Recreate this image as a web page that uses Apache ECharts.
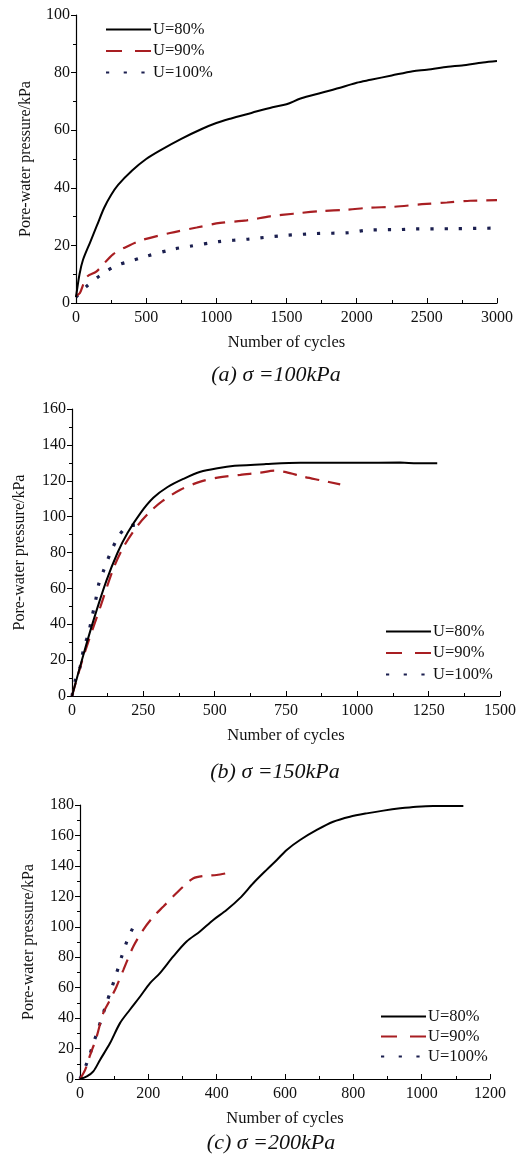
<!DOCTYPE html>
<html>
<head>
<meta charset="utf-8">
<script src="https://cdn.jsdelivr.net/npm/echarts@6/dist/echarts.min.js"></script>
<style>
  html, body { margin: 0; padding: 0; background: #fff; }
  #chart { width: 532px; height: 1163px; }
</style>
</head>
<body>
<div id="chart"></div>
<script>
// (a) sigma = 100kPa
const a80 = [[0,2],[25,10],[50,15],[100,21],[150,27],[200,33],[250,37.5],[300,41],[400,46],[500,50],[600,53],[750,57],[900,60.5],[1000,62.5],[1100,64],[1250,66],[1400,68],[1500,69],[1600,71],[1750,73],[1900,75],[2000,76.5],[2100,77.5],[2250,79],[2400,80.5],[2500,81],[2650,82],[2750,82.5],[2900,83.5],[3000,84]];
const a90 = [[0,2.5],[28,3.5],[76,9],[147,11],[266,17],[380,20],[480,22],[670,24.3],[860,26.2],[1027,27.8],[1217,28.7],[1383,30.1],[1549,31],[1740,31.9],[1930,32.4],[2096,33.1],[2263,33.4],[2465,34.3],[2643,34.9],[2809,35.5],[3000,35.7]];
const a100 = [[0,2],[71,5.6],[171,9.5],[283,12.9],[385,14.5],[485,16],[694,18.7],[813,19.7],[1015,21.3],[1229,22.2],[1474,23.4],[1705,24.1],[1942,24.4],[2073,25.3],[2310,25.5],[2405,25.7],[2700,25.8],[3000,26]];
// (b) sigma = 150kPa
const b80 = [[0,0],[40,23],[75,42],[120,64],[160,80],[195,91],[240,102],[285,110.5],[335,116.5],[390,121],[450,125],[510,127],[570,128.3],[680,129.3],[800,130],[1000,130],[1150,130.2],[1210,129.7],[1280,129.7]];
const b90 = [[0,0],[40,22],[100,50],[145,71],[180,83],[230,95],[275,103],[320,109],[380,115],[450,119.5],[510,121.7],[590,123.3],[660,124.5],[710,125.6],[750,124.8],[810,122.3],[870,120.3],[940,118]];
const b100 = [[0,0],[12,9],[29,16.5],[41,26.5],[58,35],[70,44],[82,52.5],[93,62],[111,70],[134,79.5],[163,89],[193,94.4],[222,95.3]];
// (c) sigma = 200kPa
const c80 = [[0,0],[20,1.7],[39,5],[59,12.7],[88,23.6],[117,36.7],[146,45.5],[176,54.2],[205,63],[234,69.6],[273,80.5],[312,90.3],[351,96.9],[390,104.5],[429,111],[468,118.8],[507,128.6],[546,137.4],[576,143.9],[605,150.5],[644,157],[693,163.6],[741,169],[790,172.3],[839,174.5],[888,176.3],[937,177.8],[985,178.9],[1034,179.4],[1122,179.4]];
const c90 = [[0,0],[15,6],[29,15.3],[49,28],[68,43.3],[88,52],[107,60.8],[127,71.7],[156,87],[185,98],[215,106.7],[244,113.3],[273,120],[302,126.4],[332,131.9],[361,133.4],[400,134],[429,135.2]];
const c100 = [[0,0],[20,10.5],[49,30],[78,50],[93,60],[107,69.5],[122,80.5],[137,90.3],[156,100]];

const names = ['U=80%', 'U=90%', 'U=100%'];
const captions = ['(a) σ =100kPa', '(b) σ =150kPa', '(c) σ =200kPa'];

const FONT = "'Liberation Serif', 'Times New Roman', serif";
const styles = [
  { color: '#000', width: 2, type: 'solid' },
  { color: '#a81e22', width: 2.2, type: [14, 9] },
  { color: '#1b1f4f', width: 3.2, type: [3.2, 11] }
];
// legend icons: dash patterns fitted to the 45px sample
const legendLines = [
  { type: 'solid' },
  { type: [16, 13] },
  { type: [3.2, 14.5] }
];

const panels = [
  { grid: { left: 76, top: 15, width: 421, height: 288 }, x: [0, 3000, 500], y: [0, 100, 20], yGap: 42,
    legend: { left: 100, top: 16, itemGap: 4.5 }, cap: [276, 375], data: [a80, a90, a100] },
  { grid: { left: 72, top: 409, width: 428, height: 287 }, x: [0, 1500, 250], y: [0, 160, 20], yGap: 44,
    legend: { left: 380, top: 618, itemGap: 4.5 }, cap: [275, 772], data: [b80, b90, b100] },
  { grid: { left: 80, top: 805, width: 410, height: 274 }, x: [0, 1200, 200], y: [0, 180, 20], yGap: 43,
    legend: { left: 375, top: 1003, itemGap: 3 }, cap: [271, 1143], data: [c80, c90, c100] }
];

const axisLine = { show: true, lineStyle: { color: '#000', width: 1.2 } };
const label = { color: '#111', fontFamily: FONT, fontSize: 16, formatter: v => String(v) };

const option = {
  animation: false,
  backgroundColor: '#fff',
  grid: panels.map(p => Object.assign({ containLabel: false, outerBoundsMode: 'none' }, p.grid)),
  xAxis: panels.map((p, i) => ({
    gridIndex: i, type: 'value', min: p.x[0], max: p.x[1], interval: p.x[2],
    name: 'Number of cycles', nameLocation: 'middle', nameGap: 31,
    nameTextStyle: { color: '#111', fontFamily: FONT, fontSize: 16.5 },
    axisLine: axisLine,
    axisTick: { show: true, inside: true, length: 5, lineStyle: { color: '#000' } },
    minorTick: { show: true, splitNumber: 2, length: 3, lineStyle: { color: '#000' } },
    splitLine: { show: false },
    axisLabel: Object.assign({ margin: 7 }, label)
  })),
  yAxis: panels.map((p, i) => ({
    gridIndex: i, type: 'value', min: p.y[0], max: p.y[1], interval: p.y[2],
    name: 'Pore-water pressure/kPa', nameLocation: 'middle', nameGap: p.yGap,
    nameTextStyle: { color: '#111', fontFamily: FONT, fontSize: 16 },
    axisLine: axisLine,
    axisTick: { show: true, inside: false, length: 5, lineStyle: { color: '#000' } },
    minorTick: { show: true, splitNumber: 2, length: 3, lineStyle: { color: '#000' } },
    splitLine: { show: false },
    axisLabel: Object.assign({ margin: 6 }, label)
  })),
  legend: panels.map(p => ({
    orient: 'vertical', left: p.legend.left, top: p.legend.top, itemGap: p.legend.itemGap,
    itemWidth: 45, itemHeight: 14, selectedMode: false,
    data: names.map((n, k) => ({ name: n, lineStyle: legendLines[k] })),
    itemStyle: { opacity: 0 },
    textStyle: { color: '#111', fontFamily: FONT, fontSize: 16.5, padding: [0, 0, 0, -3] }
  })),
  graphic: panels.map((p, i) => ({
    type: 'text', x: p.cap[0], y: p.cap[1],
    style: { text: captions[i], fill: '#111', font: 'italic 22px ' + FONT, align: 'center', verticalAlign: 'middle' }
  })),
  series: []
};

panels.forEach((p, i) => {
  p.data.forEach((d, k) => {
    option.series.push({
      name: names[k], type: 'line', xAxisIndex: i, yAxisIndex: i,
      data: d, showSymbol: false, symbol: 'none', smooth: 0.3,
      lineStyle: styles[k], itemStyle: { color: styles[k].color }, z: 3 - k
    });
  });
});

const chart = echarts.init(document.getElementById('chart'), null, { renderer: 'canvas' });
chart.setOption(option);
</script>
</body>
</html>
